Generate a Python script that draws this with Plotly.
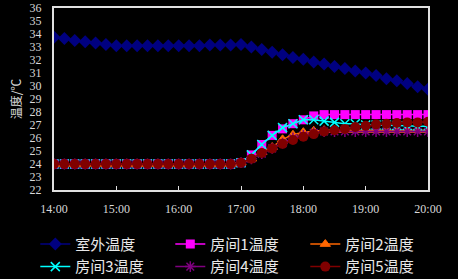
import pandas as pd
import plotly.graph_objects as go

times = pd.date_range("2020-01-01 14:00", "2020-01-01 20:00", freq="10min")

outdoor = [33.75, 33.65, 33.5, 33.4, 33.3, 33.2,
           33.1, 33.1, 33.1, 33.1, 33.1, 33.1,
           33.1, 33.1, 33.1, 33.15, 33.15, 33.15,
           33.2, 33.0, 32.8, 32.6, 32.4, 32.2,
           32.05, 31.85, 31.7, 31.5, 31.35, 31.15,
           31.0, 30.8, 30.55, 30.4, 30.2, 29.95,
           29.75]

flat = [24.0] * 18
room1 = flat + [24.1, 24.7, 25.5, 26.2, 26.7, 27.1, 27.4, 27.7, 27.8, 27.8, 27.8, 27.8,
                27.8, 27.8, 27.8, 27.8, 27.8, 27.8, 27.8]
room2 = flat + [24.1, 24.4, 24.9, 25.3, 25.9, 26.25, 26.45, 26.55, 26.6, 26.6, 26.6, 26.6,
                26.6, 26.6, 26.6, 26.6, 26.6, 26.6, 26.6]
room3 = flat + [24.1, 24.7, 25.5, 26.2, 26.8, 27.1, 27.4, 27.4, 27.3, 27.2, 27.1, 27.1,
                27.0, 27.0, 27.0, 26.95, 26.95, 26.9, 26.9]
room4 = flat + [24.1, 24.4, 24.8, 25.2, 25.6, 26.0, 26.2, 26.4, 26.5, 26.5, 26.5, 26.5,
                26.5, 26.5, 26.5, 26.5, 26.5, 26.5, 26.5]
room5 = flat + [24.1, 24.4, 24.85, 25.2, 25.55, 25.85, 26.1, 26.3, 26.5, 26.6, 26.7, 26.85,
                26.95, 27.05, 27.1, 27.15, 27.2, 27.2, 27.25]

names = ["室外温度", "房间1温度", "房间2温度", "房间3温度", "房间4温度", "房间5温度"]
series = [outdoor, room1, room2, room3, room4, room5]
colors = ["#000080", "#FF00FF", "#FF6600", "#00FFFF", "#800080", "#800000"]
symbols = ["diamond", "square", "triangle-up", "x-thin", "asterisk", "circle"]
sizes = [10, 9, 9, 9, 9, 10]

fig = go.Figure()
for name, ys, c, s, sz in zip(names, series, colors, symbols, sizes):
    marker = dict(symbol=s, size=sz, color=c)
    if s in ("x-thin", "asterisk"):
        marker["line"] = dict(color=c, width=1.5)
    elif s == "triangle-up":
        marker["line"] = dict(color=c, width=1)
    fig.add_trace(go.Scatter(x=times, y=ys, name=name, mode="lines+markers",
                             line=dict(color=c, width=1.5), marker=marker))

axis_font = dict(family="Liberation Serif", size=12, color="#d8d8d8")
fig.update_layout(
    width=458, height=279,
    margin=dict(l=54, r=30, t=8, b=89, autoexpand=False),
    paper_bgcolor="black", plot_bgcolor="black",
    showlegend=True,
    legend=dict(orientation="h", x=-0.05, y=-0.208, xanchor="left", yanchor="top",
                entrywidth=90, entrywidthmode="pixels",
                font=dict(family="Noto Sans CJK SC", size=15, color="#e8e8e8"),
                bgcolor="rgba(0,0,0,0)", tracegroupgap=0, itemwidth=30),
)
fig.update_xaxes(range=[times[0], times[-1]], tickformat="%H:%M", dtick=3600000,
                 tickfont=axis_font, showgrid=False, zeroline=False, automargin=False,
                 showline=True, mirror=True, linecolor="#e0e0e0", linewidth=2,
                 ticks="inside", ticklen=4, tickcolor="#e0e0e0", tickwidth=1,
                 ticklabelstandoff=7)
fig.update_yaxes(range=[22, 36], dtick=1, tickfont=axis_font, showgrid=False, zeroline=False,
                 automargin=False,
                 showline=True, mirror=True, linecolor="#e0e0e0", linewidth=2, ticks="",
                 ticklabelstandoff=8,
                 title=dict(text="温度/℃", font=dict(family="Noto Sans CJK SC", size=12, color="#d8d8d8"),
                            standoff=5))

fig.write_html("out.html", config={"displayModeBar": False},
               post_script="document.body.style.margin='0px';")
